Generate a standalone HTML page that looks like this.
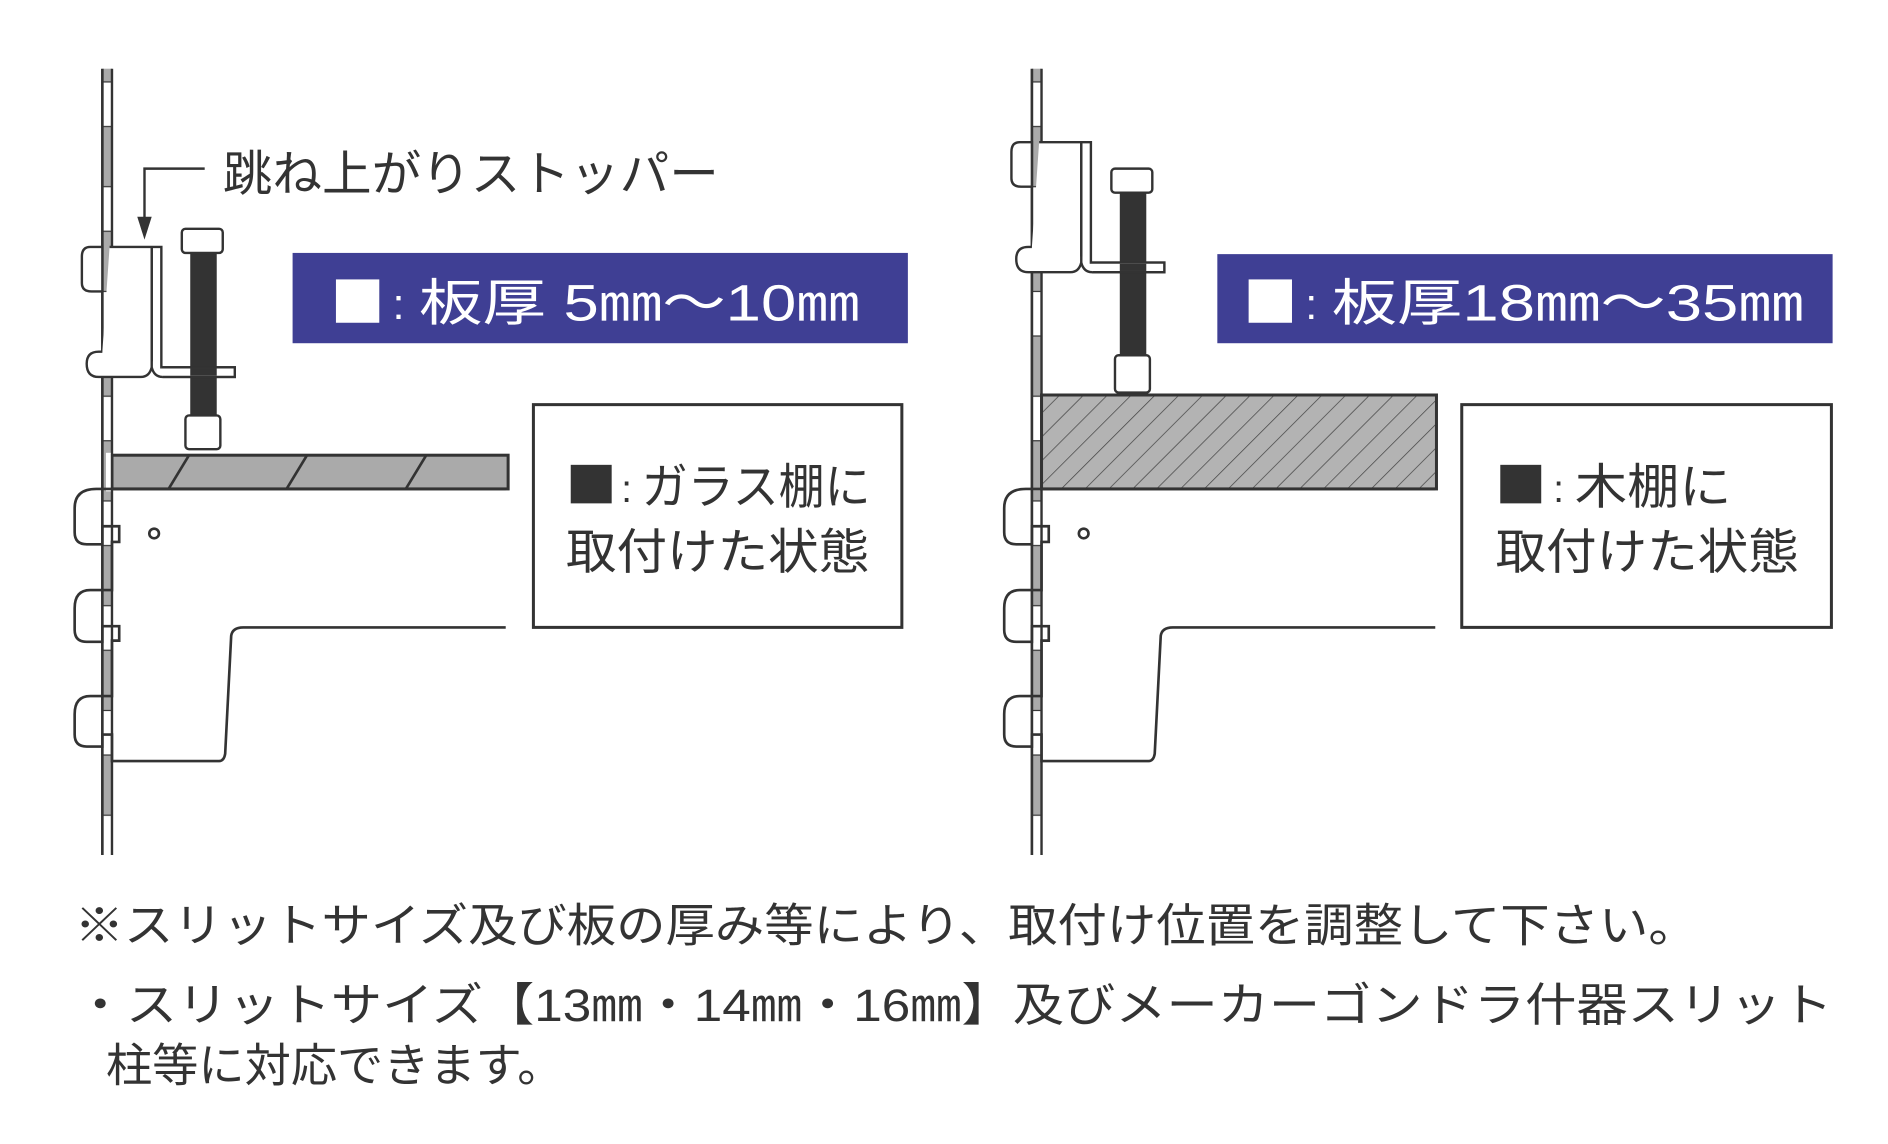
<!DOCTYPE html>
<html><head><meta charset="utf-8"><style>
html,body{margin:0;padding:0;background:#fff;}
svg{display:block;}
text{font-family:"Liberation Sans","Noto Sans CJK JP",sans-serif;fill:#333;}
</style></head><body>
<svg width="1888" height="1144" viewBox="0 0 1568 950" xmlns="http://www.w3.org/2000/svg">
<defs>
<pattern id="hatch" width="14" height="14" patternUnits="userSpaceOnUse" patternTransform="rotate(45)">
<rect width="14" height="14" fill="#b3b3b3"/><line x1="0" y1="0" x2="0" y2="14" stroke="#444" stroke-width="1.2"/>
</pattern>
<pattern id="slots" width="10" height="87" patternUnits="userSpaceOnUse" y="10">
<rect width="10" height="87" fill="#fff"/><rect x="0" y="8" width="10" height="50" fill="#aaa"/>
<line x1="0" y1="8" x2="10" y2="8" stroke="#333" stroke-width="1"/><line x1="0" y1="58" x2="10" y2="58" stroke="#333" stroke-width="1"/>
</pattern>
<g id="pillar">
<rect x="85" y="57" width="8" height="653" fill="url(#slots)"/>
<line x1="85" y1="57" x2="85" y2="710" stroke="#333" stroke-width="2.2"/>
<line x1="93" y1="57" x2="93" y2="710" stroke="#333" stroke-width="2"/>
</g>
<g id="bracket" fill="#fff" stroke="#333" stroke-width="2.2">
<path d="M420 406 H80 Q62 406 62 422 V442 Q62 452 72 452 H85 V437 H99 V450 H93 V490 H75 Q62 490 62 505 V523 Q62 533 72 533 H85 V520 H99 V532 H93 V578 H75 Q62 578 62 593 V610 Q62 620 72 620 H85 V610 H93 V632 H182 Q186 632 187 626 L192 528 Q193 521 202 521 H420" fill="none"/>
<circle cx="128" cy="443" r="4"/>
</g>
<g id="stopper" fill="#fff" stroke="#333" stroke-width="2">
<path d="M85 205 H75 Q68 205 68 213 V235 Q68 242 76 242 H85 Z"/>
<path d="M91 205 H134 V305 H195 V313 H135 Q128 313 126 305 Q124 313 117 313 H82 Q72 313 72 302 Q72 292 82 292 H85 M126 305 V276 M126 205 V276"/>
<line x1="126" y1="205" x2="126" y2="300"/>
</g>
</defs>

<!-- LEFT -->
<use href="#pillar"/>
<rect x="93" y="378" width="329" height="28" fill="#aaa" stroke="#333" stroke-width="2.5"/>
<g stroke="#333" stroke-width="2.2"><line x1="140" y1="406" x2="157" y2="378"/><line x1="238" y1="406" x2="255" y2="378"/><line x1="337" y1="406" x2="354" y2="378"/></g>
<rect x="88" y="376" width="4" height="32" fill="#fff"/>
<use href="#bracket"/>
<use href="#stopper"/>
<rect x="158" y="210" width="22" height="135" fill="#333"/>
<rect x="151" y="190" width="34" height="20" rx="3" fill="#fff" stroke="#333" stroke-width="2"/>
<rect x="154" y="345" width="29" height="28" rx="3" fill="#fff" stroke="#333" stroke-width="2"/>
<path d="M134 305 H195 V313 H135" fill="#fff" stroke="#333" stroke-width="2"/>
<rect x="158" y="306" width="22" height="6" fill="#333"/>
<polyline points="170,140 120,140 120,183" fill="none" stroke="#333" stroke-width="2"/>
<polygon points="114,180 126,180 120,199" fill="#333"/>
<text x="185" y="158" font-size="40" textLength="412" lengthAdjust="spacingAndGlyphs">跳ね上がりストッパー</text>

<rect x="243" y="210" width="511" height="75" fill="#3f3f94"/>
<rect x="279" y="232" width="36" height="36" fill="#fff"/>
<text x="326" y="265" font-size="36" style="fill:#fff">:</text>
<text x="348" y="266" font-size="42" textLength="366" lengthAdjust="spacingAndGlyphs" style="fill:#fff">板厚 5㎜〜10㎜</text>

<rect x="443" y="336" width="306" height="185" fill="#fff" stroke="#333" stroke-width="2.5"/>
<rect x="474" y="386" width="34" height="32" fill="#333"/>
<text x="516" y="417" font-size="32">:</text>
<text x="533" y="418" font-size="40" textLength="190" lengthAdjust="spacingAndGlyphs">ガラス棚に</text>
<text x="470" y="472" font-size="40" textLength="252" lengthAdjust="spacingAndGlyphs">取付けた状態</text>

<!-- RIGHT -->
<g transform="translate(772,0)"><use href="#pillar"/></g>
<rect x="865" y="328" width="328" height="78" fill="url(#hatch)" stroke="#333" stroke-width="2.5"/>
<g transform="translate(772,0)"><use href="#bracket"/></g>
<g transform="translate(772,-87)"><use href="#stopper"/></g>
<rect x="930" y="160" width="22" height="135" fill="#333"/>
<rect x="923" y="140" width="34" height="20" rx="3" fill="#fff" stroke="#333" stroke-width="2"/>
<rect x="926" y="295" width="29" height="31" rx="3" fill="#fff" stroke="#333" stroke-width="2"/>
<path d="M906 218 H967 V226 H907" fill="#fff" stroke="#333" stroke-width="2"/>
<rect x="930" y="219" width="22" height="6" fill="#333"/>

<rect x="1011" y="211" width="511" height="74" fill="#3f3f94"/>
<rect x="1037" y="232" width="36" height="36" fill="#fff"/>
<text x="1084" y="265" font-size="36" style="fill:#fff">:</text>
<text x="1106" y="266" font-size="42" textLength="392" lengthAdjust="spacingAndGlyphs" style="fill:#fff">板厚18㎜〜35㎜</text>

<rect x="1214" y="336" width="307" height="185" fill="#fff" stroke="#333" stroke-width="2.5"/>
<rect x="1246" y="386" width="34" height="32" fill="#333"/>
<text x="1290" y="417" font-size="32">:</text>
<text x="1308" y="418" font-size="40" textLength="130" lengthAdjust="spacingAndGlyphs">木棚に</text>
<text x="1242" y="472" font-size="40" textLength="252" lengthAdjust="spacingAndGlyphs">取付けた状態</text>

<!-- Notes -->
<text x="62" y="782" font-size="38" textLength="1348" lengthAdjust="spacingAndGlyphs">※スリットサイズ及び板の厚み等により、取付け位置を調整して下さい。</text>
<text x="62" y="848" font-size="38" textLength="1460" lengthAdjust="spacingAndGlyphs">・スリットサイズ【13㎜・14㎜・16㎜】及びメーカーゴンドラ什器スリット</text>
<text x="88" y="898" font-size="38" textLength="380" lengthAdjust="spacingAndGlyphs">柱等に対応できます。</text>
</svg>
</body></html>
